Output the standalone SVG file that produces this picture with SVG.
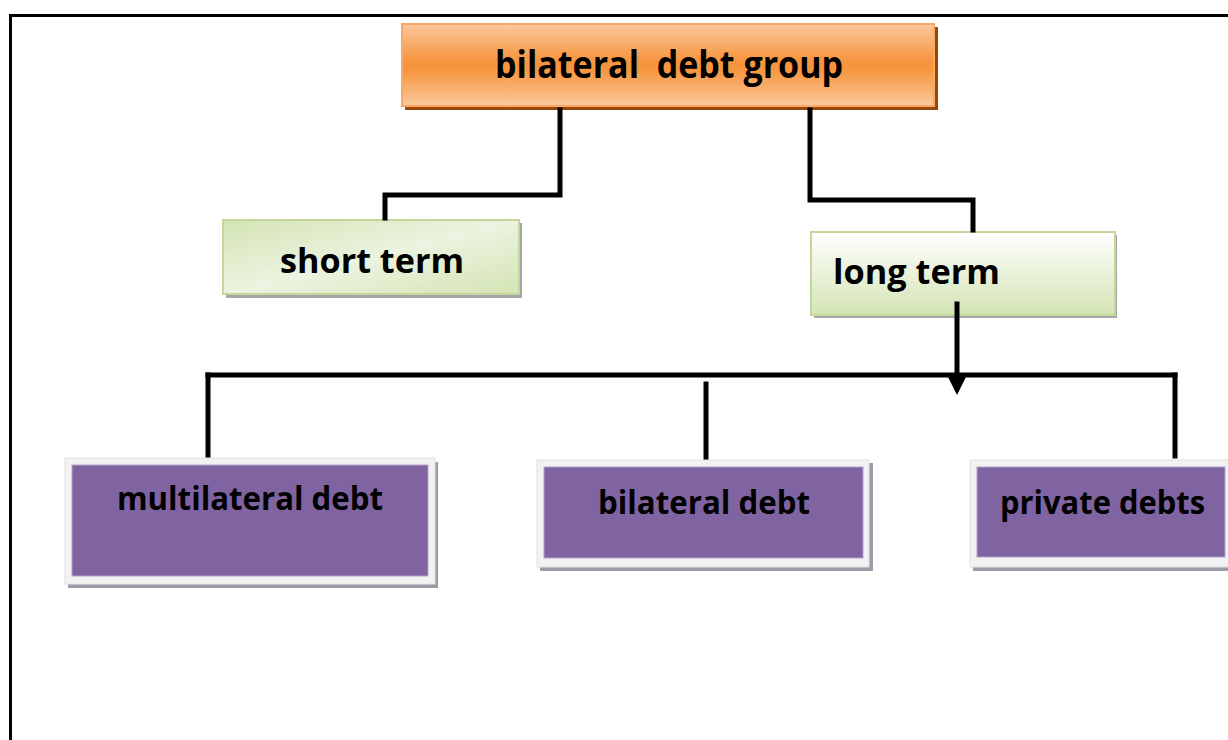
<svg xmlns="http://www.w3.org/2000/svg" width="1228" height="740" viewBox="0 0 1228 740">
<defs>
<linearGradient id="gOrange" x1="0" y1="0" x2="0" y2="1">
<stop offset="0" stop-color="#fbc89c"/>
<stop offset="0.45" stop-color="#f7953f"/>
<stop offset="0.55" stop-color="#f7953f"/>
<stop offset="1" stop-color="#fbc89c"/>
</linearGradient>
<linearGradient id="gGreen" x1="0" y1="0" x2="1" y2="1">
<stop offset="0" stop-color="#d4e4b4"/>
<stop offset="0.5" stop-color="#ecf3e0"/>
<stop offset="1" stop-color="#d4e4b4"/>
</linearGradient>
<linearGradient id="gGreen2" x1="0" y1="0" x2="0" y2="1">
<stop offset="0" stop-color="#ffffff"/>
<stop offset="1" stop-color="#d4e4b4"/>
</linearGradient>
</defs>
<style>
.frame{fill:none;stroke:#000;stroke-width:3}
.conn{fill:none;stroke:#000;stroke-width:5;stroke-linecap:square}
.lbl{font-family:"Open Sans","Liberation Sans",sans-serif;font-weight:bold;fill:#000}
.greenbox{stroke:#c3d69b;stroke-width:2}
.shadowGray{fill:#a6a6a6}
.purpleOuter{fill:#f2f2f2;stroke:#e0e0e0;stroke-width:1}
.purple{fill:#8064a2;stroke:#b3a2c7;stroke-width:1}
</style>
<rect width="1228" height="740" fill="#fff"/>
<path class="frame" d="M10.5 740 V15.5 H1228"/>

<g id="node-bilateral-debt-group">
<rect x="405" y="27" width="533" height="83" fill="#984807"/>
<rect x="402" y="24" width="532" height="82" fill="url(#gOrange)" stroke="#f9a866" stroke-width="2"/>
<text class="lbl" x="495" y="78" font-size="38" textLength="348" lengthAdjust="spacingAndGlyphs" xml:space="preserve">bilateral  debt group</text>
</g>

<g id="node-short-term">
<rect x="226" y="223" width="296" height="75" class="shadowGray"/>
<rect x="223" y="220" width="296" height="74" fill="url(#gGreen)" class="greenbox"/>
<text class="lbl" x="280" y="273" font-size="34" textLength="184" lengthAdjust="spacingAndGlyphs">short term</text>
</g>

<g id="node-long-term">
<rect x="814" y="235" width="303" height="83" class="shadowGray"/>
<rect x="811" y="232" width="304" height="83" fill="url(#gGreen2)" class="greenbox"/>
<text class="lbl" x="833" y="284" font-size="34" textLength="167" lengthAdjust="spacingAndGlyphs">long term</text>
</g>

<g id="node-multilateral-debt">
<rect x="68" y="462" width="370" height="126" fill="#a09aa6"/>
<rect x="65" y="458" width="370" height="126" class="purpleOuter"/>
<rect x="72" y="465" width="356" height="111" class="purple"/>
<text class="lbl" x="117" y="510" font-size="32" textLength="266" lengthAdjust="spacingAndGlyphs">multilateral debt</text>
</g>

<g id="node-bilateral-debt">
<rect x="540" y="463" width="333" height="108" fill="#a09aa6"/>
<rect x="537" y="460" width="332" height="107" class="purpleOuter"/>
<rect x="544" y="467" width="319" height="91" class="purple"/>
<text class="lbl" x="598" y="514" font-size="32" textLength="212" lengthAdjust="spacingAndGlyphs">bilateral debt</text>
</g>

<g id="node-private-debts">
<rect x="973" y="463" width="260" height="108" fill="#a09aa6"/>
<rect x="970" y="460" width="262" height="107" class="purpleOuter"/>
<rect x="977" y="467" width="248" height="90" class="purple"/>
<text class="lbl" x="1000" y="514" font-size="32" textLength="205" lengthAdjust="spacingAndGlyphs">private debts</text>
</g>

<g id="connectors">
<path class="conn" d="M560 110 V195 H385 V218"/>
<path class="conn" d="M810 110 V200 H973 V230"/>
<path class="conn" d="M957 304 V376"/>
<polygon points="947,375 967,375 957,395" fill="#000"/>
<path class="conn" d="M208 375 H1175"/>
<path class="conn" d="M208 375 V455"/>
<path class="conn" d="M706 384 V457"/>
<path class="conn" d="M1175 375 V456"/>
</g>
</svg>
